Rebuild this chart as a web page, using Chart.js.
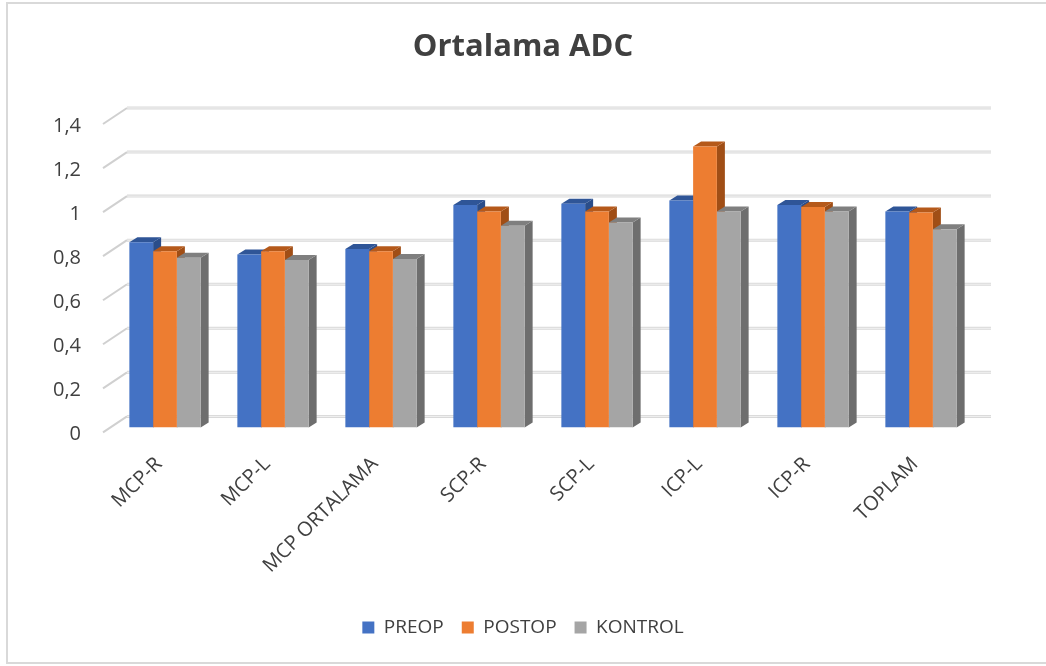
<!DOCTYPE html>
<html>
<head>
<meta charset="utf-8">
<script src="https://cdn.jsdelivr.net/npm/chart.js@4.4.1/dist/chart.umd.min.js"></script>
<style>
  body { margin: 0; background: #fff; overflow: hidden; }
  #frame { position: absolute; left: 6px; top: 2px; width: 1060px; height: 662px; border: 2px solid #d9d9d9; box-sizing: border-box; }
  #wrap { position: absolute; left: 0; top: 0; width: 1046px; height: 666px; }
</style>
</head>
<body>
<div id="frame"></div>
<div id="wrap"><canvas id="chart"></canvas></div>
<script>
const categories = ['MCP-R', 'MCP-L', 'MCP ORTALAMA', 'SCP-R', 'SCP-L', 'ICP-L', 'ICP-R', 'TOPLAM'];
const preop = [0.84, 0.785, 0.81, 1.01, 1.015, 1.03, 1.01, 0.98];
const postop = [0.80, 0.80, 0.80, 0.98, 0.98, 1.275, 1.00, 0.975];
const kontrol = [0.77, 0.76, 0.765, 0.915, 0.93, 0.98, 0.98, 0.90];
const yTicks = [0, 0.2, 0.4, 0.6, 0.8, 1, 1.2, 1.4];

const frontColors = ['#4472c4', '#ed7d31', '#a5a5a5'];
const topColors = ['#2f5597', '#b5591a', '#7f7f7f'];
const sideColors = ['#2a4d8a', '#a04e16', '#6e6e6e'];
const textColor = '#404040';
const font = "'Open Sans', sans-serif";

// 3D depth of the bars and the back wall
const dx = 8, dy = -5;
const wallDx = 16, wallDy = -11;

const fake3d = {
    id: 'fake3d',
    beforeDatasetsDraw(chart) {
        const ctx = chart.ctx;
        const y = chart.scales.y;
        const area = chart.chartArea;
        ctx.save();
        // back wall grid lines + small diagonal floor ticks
        yTicks.forEach(v => {
            const py = y.getPixelForValue(v);
            ctx.strokeStyle = '#d9d9d9';
            ctx.lineWidth = 3;
            ctx.beginPath();
            ctx.moveTo(area.left + wallDx, py + wallDy);
            ctx.lineTo(area.right + wallDx, py + wallDy);
            ctx.stroke();
            ctx.strokeStyle = '#f2f2f2';
            ctx.lineWidth = 1;
            ctx.stroke();
            ctx.strokeStyle = '#d0d0d0';
            ctx.lineWidth = 2;
            ctx.beginPath();
            ctx.moveTo(area.left - 8, py + 5);
            ctx.lineTo(area.left + wallDx, py + wallDy);
            ctx.stroke();
        });
        // side and top faces, front faces are drawn by Chart.js over them
        chart.data.datasets.forEach((ds, i) => {
            chart.getDatasetMeta(i).data.forEach(bar => {
                const p = bar.getProps(['x', 'y', 'base', 'width'], true);
                const l = p.x - p.width / 2, r = p.x + p.width / 2;
                ctx.fillStyle = sideColors[i];
                ctx.beginPath();
                ctx.moveTo(r, p.y);
                ctx.lineTo(r + dx, p.y + dy);
                ctx.lineTo(r + dx, p.base + dy);
                ctx.lineTo(r, p.base);
                ctx.closePath();
                ctx.fill();
                ctx.fillStyle = topColors[i];
                ctx.beginPath();
                ctx.moveTo(l, p.y);
                ctx.lineTo(l + dx, p.y + dy);
                ctx.lineTo(r + dx, p.y + dy);
                ctx.lineTo(r, p.y);
                ctx.closePath();
                ctx.fill();
            });
        });
        ctx.restore();
    }
};

new Chart(document.getElementById('chart'), {
    type: 'bar',
    data: {
        labels: categories,
        datasets: [
            { label: 'PREOP', data: preop, backgroundColor: frontColors[0] },
            { label: 'POSTOP', data: postop, backgroundColor: frontColors[1] },
            { label: 'KONTROL', data: kontrol, backgroundColor: frontColors[2] }
        ]
    },
    options: {
        responsive: true,
        maintainAspectRatio: false,
        animation: false,
        layout: { padding: { left: 0, right: 0, top: 0, bottom: 19 } },
        datasets: { bar: { categoryPercentage: 0.66, barPercentage: 1.0 } },
        scales: {
            x: {
                grid: { display: false },
                border: { display: false },
                ticks: {
                    color: textColor,
                    font: { family: font, size: 20 },
                    maxRotation: 45,
                    minRotation: 45,
                    padding: 17,
                    labelOffset: -6
                },
                afterFit(s) { s.height = 172.6; }
            },
            y: {
                min: 0,
                max: 1.4,
                grid: { display: false },
                border: { display: false },
                afterBuildTicks(s) { s.ticks = yTicks.map(v => ({ value: v })); },
                ticks: {
                    color: textColor,
                    font: { family: font, size: 20 },
                    padding: 22,
                    labelOffset: 7,
                    callback: v => String(Math.round(v * 10) / 10).replace('.', ',')
                },
                afterFit(s) { s.width = 111; }
            },
            // empty right axis, only keeps room on the right side
            spacer: {
                type: 'linear',
                position: 'right',
                grid: { display: false },
                border: { display: false },
                ticks: { display: false },
                afterFit(s) { s.width = 71; }
            }
        },
        plugins: {
            title: {
                display: true,
                text: 'Ortalama ADC',
                color: textColor,
                font: { family: font, size: 31, weight: 'bold' },
                padding: { top: 29, bottom: 52.8 }
            },
            legend: {
                position: 'bottom',
                labels: {
                    color: textColor,
                    font: { family: font, size: 19 },
                    boxWidth: 12,
                    boxHeight: 12,
                    padding: 18
                }
            },
            tooltip: { enabled: false }
        }
    },
    plugins: [fake3d]
});
</script>
</body>
</html>
